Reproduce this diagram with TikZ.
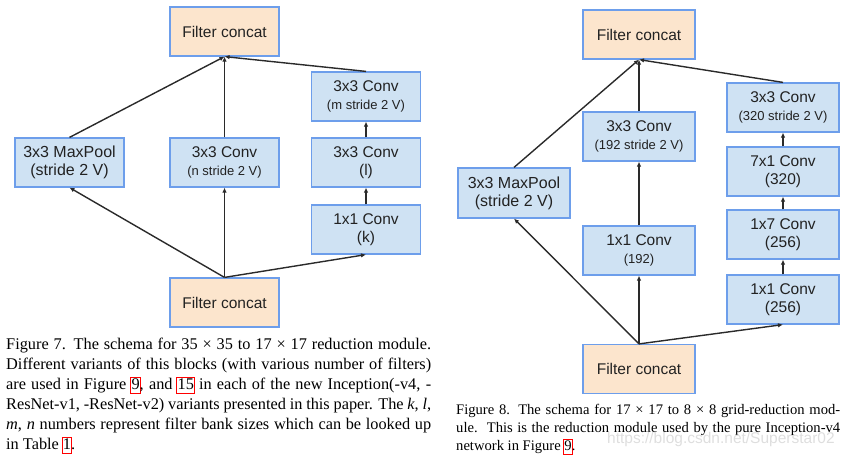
\documentclass[tikz,border=0pt]{standalone}
\usepackage{fontspec}
\usetikzlibrary{arrows.meta}
\newfontfamily\boxfont{Liberation Sans}
\newfontfamily\capfont{Liberation Serif}
\definecolor{convfill}{HTML}{CFE2F3}
\definecolor{concatfill}{HTML}{FCE5CD}
\definecolor{bordblue}{HTML}{6D9EEB}
\definecolor{arrowgray}{HTML}{2A2A2A}
\definecolor{textdark}{HTML}{222222}
\newcommand\lnk[1]{\leavevmode\rlap{\color{red}\setlength\fboxsep{0.3pt}\setlength\fboxrule{0.9pt}\kern-1.2pt\fbox{\phantom{#1}\vphantom{Ag}}}#1}
\newcommand\capln[1]{\hbox to\hsize{#1}}
\begin{document}
\begin{tikzpicture}[x=1pt,y=-1pt,
  blk/.style={draw=bordblue,line width=1.2pt,fill=convfill,inner sep=0pt,
    minimum width=109pt,minimum height=49pt,align=center,text=textdark,
    font=\boxfont\fontsize{15.5}{17.5}\selectfont},
  blkR/.style={blk,minimum width=112pt},
  cat/.style={fill=concatfill},
  arr/.style={draw=arrowgray,line width=1.4pt,-{Latex[length=5pt,width=4.5pt]}}
]
\useasboundingbox (0,0) rectangle (848,456);
% ---------- left diagram ----------
\node[blk,cat] (topL) at (224.5,31.5) {Filter concat};
\node[blk,font=\boxfont\fontsize{16}{18}\selectfont] (poolL) at (69.5,162.5) {3x3 MaxPool\\(stride 2 V)};
\node[blk] (convnL) at (224.5,162.5) {3x3 Conv\\{\fontsize{13}{17}\selectfont(n stride 2 V)}};
\node[blk] (convmL) at (366,96.5) {3x3 Conv\\{\fontsize{13}{17}\selectfont(m stride 2 V)}};
\node[blk] (convlL) at (366,162.5) {3x3 Conv\\(l)};
\node[blk] (convkL) at (366,229.5) {1x1 Conv\\(k)};
\node[blk,cat] (botL) at (224.5,302.5) {Filter concat};
\draw[arr] (botL.north) -- (poolL.south);
\draw[arr] (botL.north) -- (convnL.south);
\draw[arr] (botL.north) -- (convkL.south);
\draw[arr] (convkL) -- (convlL);
\draw[arr] (convlL) -- (convmL);
\draw[arr] (poolL.north) -- (topL.south);
\draw[arr] (convnL.north) -- (topL.south);
\draw[arr] (convmL.north) -- (topL.south);
% ---------- right diagram ----------
\node[blkR,cat] (topR) at (639,34.5) {Filter concat};
\node[blkR,font=\boxfont\fontsize{16}{18}\selectfont,minimum height=50pt] (poolR) at (514,193) {3x3 MaxPool\\(stride 2 V)};
\node[blkR] (cb192) at (639,136.5) {3x3 Conv\\{\fontsize{13}{17}\selectfont(192 stride 2 V)}};
\node[blkR] (ca192) at (639,250.5) {1x1 Conv\\{\fontsize{13}{17}\selectfont(192)}};
\node[blkR] (c320s) at (783,107.5) {3x3 Conv\\{\fontsize{13}{17}\selectfont(320 stride 2 V)}};
\node[blkR] (c71) at (783,171.5) {7x1 Conv\\(320)};
\node[blkR] (c17) at (783,234.5) {1x7 Conv\\(256)};
\node[blkR] (c11) at (783,299.5) {1x1 Conv\\(256)};
\node[blkR,cat] (botR) at (639,369) {Filter concat};
\draw[arr] (botR.north) -- (poolR.south);
\draw[arr] (botR.north) -- (ca192.south);
\draw[arr] (botR.north) -- (c11.south);
\draw[arr] (ca192) -- (cb192);
\draw[arr] (c11) -- (c17);
\draw[arr] (c17) -- (c71);
\draw[arr] (c71) -- (c320s);
\draw[arr] (poolR.north) -- (topR.south);
\draw[arr] (cb192.north) -- (topR.south);
\draw[arr] (c320s.north) -- (topR.south);
% ---------- captions ----------
\node[anchor=base west,inner sep=0pt,text=black] (capL) at (6,349.3) {\capfont\fontsize{16.3}{20}\selectfont
\vtop{\hsize=425pt\baselineskip=20pt
\capln{Figure 7. The schema for 35 × 35 to 17 × 17 reduction module.}
\capln{Different variants of this blocks (with various number of filters)}
\capln{are used in Figure \lnk{9}, and \lnk{15} in each of the new Inception(-v4, -}
\capln{ResNet-v1, -ResNet-v2) variants presented in this paper. The \textit{k}, \textit{l},}
\capln{\textit{m}, \textit{n} numbers represent filter bank sizes which can be looked up}
\hbox{in Table \lnk{1}.}}};
\node[anchor=base west,inner sep=0pt,text=black] (capR) at (456,414.3) {\capfont\fontsize{14.6}{18}\selectfont
\vtop{\hsize=384pt\baselineskip=18pt
\capln{Figure 8. The schema for 17 × 17 to 8 × 8 grid-reduction mod-}
\capln{ule.\ \ This is the reduction module used by the pure Inception-v4}
\hbox{network in Figure \lnk{9}.}}};
\node[anchor=base west,inner sep=0pt,text=black!13] (wm) at (607,443) {\boxfont\fontsize{15.5}{15.5}\selectfont https://blog.csdn.net/Superstar02};
\end{tikzpicture}
\end{document}
